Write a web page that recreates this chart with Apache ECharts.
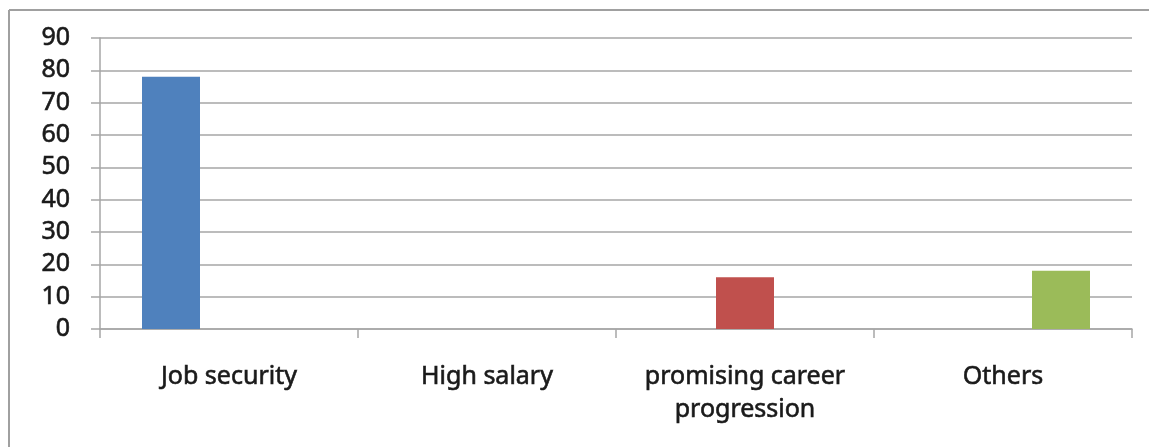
<!DOCTYPE html>
<html>
<head>
<meta charset="utf-8">
<script src="https://cdn.jsdelivr.net/npm/echarts@6/dist/echarts.min.js"></script>
<style>
html,body{margin:0;padding:0;background:#fff;}
#c{width:1149px;height:447px;}
</style>
</head>
<body>
<div id="c"></div>
<script>
const categories = ['Job security', 'High salary', 'promising career\nprogression', 'Others'];
const seriesBlue = [78, 0, 0, 0];
const seriesRed = [0, 0, 16, 0];
const seriesGreen = [0, 0, 0, 18];
const yTicks = { min: 0, max: 90, interval: 10 };

const chart = echarts.init(document.getElementById('c'), null, { renderer: 'canvas' });
const lineColor = '#a6a6a6';
const textColor = '#1a1a1a';
chart.setOption({
  animation: false,
  backgroundColor: '#fff',
  grid: { left: 100, right: 17, top: 38, bottom: 118, containLabel: false },
  graphic: [
    { type: 'line', shape: { x1: 9, y1: 10, x2: 1149, y2: 10 }, style: { stroke: '#a0a0a0', lineWidth: 2 } },
    { type: 'line', shape: { x1: 9, y1: 10, x2: 9, y2: 447 }, style: { stroke: '#a0a0a0', lineWidth: 2 } }
  ],
  xAxis: {
    type: 'category',
    data: categories,
    axisLine: { show: true, lineStyle: { color: lineColor, width: 1.5 } },
    axisTick: { show: true, length: 9, alignWithLabel: false, lineStyle: { color: lineColor, width: 1.5 } },
    axisLabel: {
      margin: 31,
      color: textColor,
      textBorderColor: textColor,
      textBorderWidth: 0.6,
      fontFamily: 'Noto Sans',
      fontSize: 25,
      lineHeight: 33,
      interval: 0
    }
  },
  yAxis: {
    type: 'value',
    min: yTicks.min, max: yTicks.max, interval: yTicks.interval,
    axisLine: { show: true, lineStyle: { color: lineColor, width: 1.5 } },
    axisTick: { show: true, length: 9, lineStyle: { color: lineColor, width: 1.5 } },
    splitLine: { show: true, lineStyle: { color: lineColor, width: 1.5 } },
    axisLabel: {
      margin: 30,
      color: textColor,
      textBorderColor: textColor,
      textBorderWidth: 0.6,
      fontFamily: 'Noto Sans',
      fontSize: 25
    }
  },
  series: [
    { type: 'bar', data: seriesBlue, barWidth: 58, barGap: '0%', itemStyle: { color: '#4F81BD' } },
    { type: 'bar', data: seriesRed, barWidth: 58, barGap: '0%', itemStyle: { color: '#C0504D' } },
    { type: 'bar', data: seriesGreen, barWidth: 58, barGap: '0%', itemStyle: { color: '#9BBB59' } }
  ]
});
</script>
</body>
</html>
